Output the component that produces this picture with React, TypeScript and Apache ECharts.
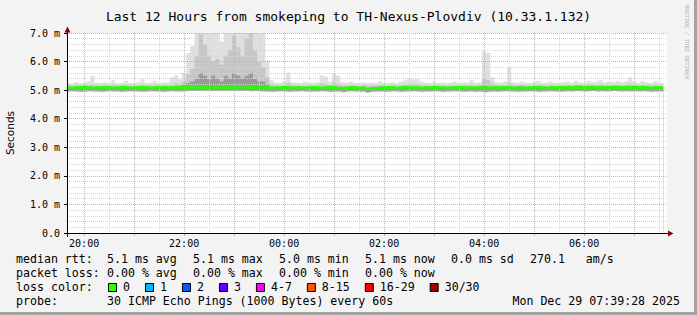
import React, { useEffect, useRef } from "react";
import * as echarts from "echarts";

// ---------- texts ----------
const TITLE = "Last 12 Hours from smokeping to TH-Nexus-Plovdiv (10.33.1.132)";
const Y_NAME = "Seconds";
const WATERMARK = "RRDTOOL / TOBI OETIKER";
const rowLabels = ["median rtt:", "packet loss:", "loss color:", "probe:"];
const rttStats = ["5.1 ms avg", "5.1 ms max", "5.0 ms min", "5.1 ms now", "0.0 ms sd", "270.1   am/s"];
const lossStats = ["0.00 % avg", "0.00 % max", "0.00 % min", "0.00 % now"];
const lossLabels = ["0", "1", "2", "3", "4-7", "8-15", "16-29", "30/30"];
const lossColors = ["#26ff00", "#00b8ff", "#0059ff", "#5e00ff", "#ff00ff", "#ff5500", "#ff0000", "#a10000"];
const probeText = "30 ICMP Echo Pings (1000 Bytes) every 60s";
const dateText = "Mon Dec 29 07:39:28 2025";

// ---------- time frame (hours after 19:00, Dec 28) ----------
const RANGE_START = 39 / 60 + 28 / 3600; // 19:39:28
const RANGE_HOURS = 12;
const FIRST_SAMPLE_MIN = 40; // 19:40
const SAMPLE_STEP_MIN = 5;

// ---------- data (ms), one value per 5 minutes, 12 per hour row ----------
const medianRtt = [
  5.08, 5.07, 5.08, 5.09, 5.10, 5.08, 5.07, 5.08, 5.08, 5.09, 5.08, 5.07,
  5.08, 5.09, 5.08, 5.07, 5.08, 5.08, 5.09, 5.08, 5.07, 5.08, 5.08, 5.09,
  5.08, 5.08, 5.09, 5.10, 5.09, 5.10, 5.11, 5.10, 5.09, 5.10, 5.11, 5.10,
  5.10, 5.11, 5.09, 5.10, 5.11, 5.10, 5.12, 5.10, 5.09, 5.11, 5.10, 5.09,
  5.08, 5.07, 5.08, 5.08, 5.09, 5.08, 5.07, 5.08, 5.08, 5.07, 5.08, 5.09,
  5.08, 5.07, 5.08, 5.09, 5.08, 5.07, 5.06, 5.08, 5.09, 5.08, 5.07, 5.08,
  5.04, 5.06, 5.07, 5.08, 5.08, 5.09, 5.08, 5.07, 5.08, 5.09, 5.08, 5.08,
  5.08, 5.07, 5.08, 5.08, 5.09, 5.08, 5.08, 5.07, 5.08, 5.08, 5.09, 5.08,
  5.08, 5.07, 5.08, 5.08, 5.08, 5.07, 5.08, 5.08, 5.09, 5.08, 5.08, 5.07,
  5.08, 5.08, 5.07, 5.08, 5.09, 5.08, 5.08, 5.07, 5.08, 5.08, 5.09, 5.08,
  5.09, 5.08, 5.10, 5.09, 5.08, 5.09, 5.10, 5.08, 5.09, 5.08, 5.09, 5.10,
  5.09, 5.08, 5.09, 5.08, 5.09, 5.08, 5.09, 5.08, 5.07, 5.08, 5.08, 5.08,
];

// smoke: lower edge, top of dark band, top of mid band, top of light band
const smokeLow = [
  4.95, 4.96, 4.95, 4.94, 4.95, 4.96, 4.95, 4.95, 4.94, 4.95, 4.96, 4.95,
  4.95, 4.94, 4.95, 4.96, 4.95, 4.95, 4.94, 4.95, 4.96, 4.95, 4.95, 4.94,
  4.95, 4.96, 4.95, 4.95, 4.96, 4.97, 4.98, 4.97, 4.98, 4.97, 4.98, 4.97,
  4.98, 4.97, 4.98, 4.97, 4.98, 4.97, 4.98, 4.97, 4.96, 4.97, 4.96, 4.95,
  4.95, 4.94, 4.95, 4.96, 4.95, 4.94, 4.95, 4.95, 4.96, 4.95, 4.94, 4.95,
  4.95, 4.96, 4.95, 4.94, 4.95, 4.95, 4.93, 4.95, 4.96, 4.95, 4.94, 4.95,
  4.92, 4.94, 4.95, 4.95, 4.94, 4.95, 4.96, 4.95, 4.94, 4.95, 4.95, 4.96,
  4.95, 4.94, 4.95, 4.95, 4.96, 4.95, 4.94, 4.95, 4.95, 4.96, 4.95, 4.94,
  4.95, 4.95, 4.94, 4.95, 4.93, 4.94, 4.95, 4.94, 4.95, 4.96, 4.95, 4.95,
  4.94, 4.95, 4.95, 4.96, 4.95, 4.94, 4.95, 4.95, 4.96, 4.95, 4.94, 4.95,
  4.96, 4.95, 4.97, 4.96, 4.95, 4.96, 4.97, 4.95, 4.96, 4.95, 4.96, 4.97,
  4.96, 4.95, 4.96, 4.95, 4.96, 4.95, 4.96, 4.95, 4.94, 4.95, 4.95, 4.96,
];
const smokeDark = [
  5.07, 5.06, 5.07, 5.08, 5.08, 5.07, 5.06, 5.07, 5.07, 5.08, 5.07, 5.06,
  5.07, 5.08, 5.07, 5.06, 5.07, 5.07, 5.08, 5.07, 5.06, 5.07, 5.07, 5.08,
  5.09, 5.10, 5.12, 5.14, 5.20, 5.25, 5.30, 5.40, 5.60, 5.50, 5.40, 5.50,
  5.40, 5.30, 5.50, 5.40, 5.60, 5.50, 5.40, 5.50, 5.60, 5.40, 5.30, 5.30,
  5.20, 5.10, 5.07, 5.07, 5.08, 5.07, 5.06, 5.07, 5.07, 5.06, 5.07, 5.08,
  5.07, 5.06, 5.07, 5.08, 5.07, 5.06, 5.05, 5.07, 5.08, 5.07, 5.06, 5.07,
  5.03, 5.05, 5.06, 5.07, 5.07, 5.08, 5.07, 5.06, 5.07, 5.08, 5.07, 5.07,
  5.07, 5.06, 5.07, 5.07, 5.08, 5.07, 5.07, 5.06, 5.07, 5.07, 5.08, 5.07,
  5.07, 5.06, 5.07, 5.07, 5.15, 5.12, 5.07, 5.07, 5.08, 5.07, 5.07, 5.06,
  5.07, 5.07, 5.06, 5.07, 5.08, 5.07, 5.07, 5.06, 5.07, 5.07, 5.08, 5.07,
  5.08, 5.07, 5.09, 5.08, 5.07, 5.08, 5.09, 5.07, 5.08, 5.07, 5.08, 5.09,
  5.08, 5.07, 5.08, 5.07, 5.08, 5.07, 5.08, 5.07, 5.06, 5.07, 5.07, 5.07,
];
const smokeMid = [
  5.16, 5.15, 5.17, 5.16, 5.17, 5.16, 5.20, 5.16, 5.15, 5.17, 5.16, 5.18,
  5.16, 5.17, 5.18, 5.16, 5.15, 5.17, 5.19, 5.16, 5.17, 5.18, 5.16, 5.17,
  5.16, 5.20, 5.25, 5.22, 5.30, 5.55, 5.75, 6.20, 6.95, 6.60, 6.20, 6.00,
  6.10, 5.90, 6.20, 6.40, 6.90, 6.50, 6.20, 6.80, 7.00, 6.40, 6.00, 5.80,
  5.45, 5.20, 5.17, 5.16, 5.18, 5.25, 5.17, 5.16, 5.15, 5.17, 5.16, 5.16,
  5.17, 5.25, 5.22, 5.18, 5.25, 5.22, 5.16, 5.15, 5.17, 5.16, 5.15, 5.17,
  5.15, 5.16, 5.15, 5.17, 5.16, 5.16, 5.17, 5.15, 5.17, 5.19, 5.22, 5.20,
  5.20, 5.17, 5.16, 5.15, 5.17, 5.16, 5.16, 5.15, 5.16, 5.17, 5.16, 5.17,
  5.16, 5.19, 5.16, 5.17, 5.40, 5.35, 5.22, 5.17, 5.16, 5.17, 5.25, 5.17,
  5.16, 5.18, 5.16, 5.15, 5.17, 5.18, 5.16, 5.16, 5.18, 5.16, 5.16, 5.17,
  5.18, 5.17, 5.19, 5.18, 5.16, 5.19, 5.17, 5.18, 5.20, 5.17, 5.18, 5.17,
  5.19, 5.17, 5.18, 5.22, 5.18, 5.16, 5.18, 5.17, 5.16, 5.18, 5.16, 5.16,
];
const smokeHigh = [
  5.25, 5.22, 5.28, 5.24, 5.25, 5.30, 5.50, 5.26, 5.24, 5.28, 5.25, 5.35,
  5.24, 5.26, 5.32, 5.25, 5.24, 5.28, 5.38, 5.25, 5.26, 5.32, 5.25, 5.27,
  5.28, 5.45, 5.52, 5.38, 5.62, 6.30, 6.55, 7.00, 7.00, 7.00, 7.00, 7.00,
  7.00, 6.70, 7.00, 7.00, 7.00, 7.00, 7.00, 7.00, 7.00, 7.00, 7.00, 7.00,
  6.05, 5.35, 5.28, 5.25, 5.30, 5.62, 5.28, 5.26, 5.24, 5.30, 5.26, 5.25,
  5.28, 5.52, 5.48, 5.30, 5.58, 5.50, 5.28, 5.25, 5.30, 5.26, 5.24, 5.28,
  5.25, 5.27, 5.24, 5.30, 5.26, 5.25, 5.28, 5.24, 5.30, 5.35, 5.42, 5.38,
  5.40, 5.30, 5.26, 5.24, 5.28, 5.25, 5.27, 5.24, 5.26, 5.30, 5.25, 5.28,
  5.26, 5.35, 5.25, 5.28, 6.35, 6.30, 5.45, 5.28, 5.26, 5.30, 5.80, 5.28,
  5.25, 5.30, 5.26, 5.24, 5.28, 5.32, 5.25, 5.27, 5.30, 5.26, 5.25, 5.28,
  5.30, 5.26, 5.34, 5.28, 5.25, 5.32, 5.28, 5.30, 5.35, 5.27, 5.30, 5.28,
  5.32, 5.28, 5.30, 5.45, 5.30, 5.26, 5.32, 5.28, 5.25, 5.30, 5.26, 5.24,
];

// ---------- layout ----------
const W = 697;
const H = 315;
const GL = 67;
const GT = 33;
const GW = 600;
const GH = 200;
const MONO = "'DejaVu Sans Mono', monospace";
const LEG_FS = 11.6;
const CHAR_W = 6.98;
const ROW_Y = [259, 273, 287, 301];
const TEXT_X = 16;
const STAT_X = [107, 193, 279, 365, 451, 530];
const BOX_X0 = 108;
const MAJOR_GRID = "#e3a3a3";
const MINOR_GRID = "#d6d6d6";
const ARROW = "#8e0000";
const SMOKE_LIGHT = "#e0e0e0";
const SMOKE_MID = "#c6c6c6";
const SMOKE_DARK = "#9a9a9a";

function buildOption() {
  const xs = medianRtt.map((_, i) => (FIRST_SAMPLE_MIN + i * SAMPLE_STEP_MIN) / 60);
  const pair = (arr: number[]) => arr.map((v, i) => [xs[i], v]);
  const xMin = RANGE_START;
  const xMax = RANGE_START + RANGE_HOURS;

  // each band is an area filled from the axis floor; later ones cover earlier ones
  const areaSeries = (name: string, data: number[], color: string) => ({
    type: "line",
    name,
    xAxisIndex: 1,
    step: "middle",
    symbol: "none",
    silent: true,
    data: pair(data),
    lineStyle: { width: 0, opacity: 0 },
    areaStyle: { color, opacity: 1, origin: "start" },
    z: 1,
  });

  const graphics: any[] = [];
  const bottom = GT + GH;
  // frame
  graphics.push({ type: "rect", shape: { x: 0, y: H - 3, width: W, height: 3 }, style: { fill: "#a3a3a3" }, silent: true });
  graphics.push({ type: "rect", shape: { x: W - 3, y: 0, width: 3, height: H }, style: { fill: "#a3a3a3" }, silent: true });
  // axis extensions and arrows
  graphics.push({ type: "line", shape: { x1: GL - 3, y1: bottom + 0.5, x2: GL + GW + 2, y2: bottom + 0.5 }, style: { stroke: "#000", lineWidth: 1 }, silent: true, z: 10 });
  graphics.push({ type: "line", shape: { x1: GL + 0.5, y1: bottom + 4, x2: GL + 0.5, y2: GT - 1 }, style: { stroke: "#000", lineWidth: 1 }, silent: true, z: 10 });
  graphics.push({ type: "polygon", shape: { points: [[GL + GW + 1, bottom - 2.5], [GL + GW + 6.5, bottom + 0.5], [GL + GW + 1, bottom + 3.5]] }, style: { fill: ARROW }, silent: true, z: 10 });
  graphics.push({ type: "polygon", shape: { points: [[GL - 2.5, GT - 0.5], [GL + 0.5, GT - 6.5], [GL + 3.5, GT - 0.5]] }, style: { fill: ARROW }, silent: true, z: 10 });
  // y name
  graphics.push({ type: "text", x: 10, y: GT + GH / 2, rotation: Math.PI / 2, style: { text: Y_NAME, fontFamily: "'DejaVu Sans', sans-serif", fontSize: 10.5, fill: "#000", align: "center", verticalAlign: "middle" }, silent: true });
  // watermark
  graphics.push({ type: "text", x: 686.5, y: 5, rotation: -Math.PI / 2, style: { text: WATERMARK, fontFamily: MONO, fontSize: 5.6, fill: "#b0b0b0", align: "left", verticalAlign: "middle" }, silent: true });

  const txt = (text: string, x: number, y: number, align = "left") => ({
    type: "text",
    x,
    y,
    style: { text, fontFamily: MONO, fontSize: LEG_FS, fill: "#000", align, verticalAlign: "middle" },
    silent: true,
  });
  rowLabels.forEach((l, r) => graphics.push(txt(l, TEXT_X, ROW_Y[r])));
  rttStats.forEach((s, k) => graphics.push(txt(s, STAT_X[k], ROW_Y[0])));
  lossStats.forEach((s, k) => graphics.push(txt(s, STAT_X[k], ROW_Y[1])));
  let bx = BOX_X0;
  lossLabels.forEach((l, k) => {
    graphics.push({
      type: "rect",
      shape: { x: bx + 0.5, y: ROW_Y[2] - 3.5, width: 8, height: 8 },
      style: { fill: lossColors[k], stroke: "#000", lineWidth: 1 },
      silent: true,
    });
    graphics.push(txt(l, bx + 15, ROW_Y[2]));
    bx += 30 + CHAR_W * l.length;
  });
  graphics.push(txt(probeText, STAT_X[0], ROW_Y[3]));
  graphics.push(txt(dateText, 680, ROW_Y[3], "right"));

  const pad = (n: number) => (n < 10 ? "0" + n : "" + n);

  return {
    animation: false,
    backgroundColor: "#f3f3f3",
    title: {
      text: TITLE,
      left: "center",
      top: 5,
      textStyle: { fontFamily: MONO, fontSize: 13, fontWeight: "normal", color: "#000" },
    },
    grid: {
      left: GL,
      top: GT,
      width: GW,
      height: GH,
      show: true,
      backgroundColor: "#ffffff",
      borderWidth: 0,
      containLabel: false,
      outerBoundsMode: "none",
    },
    xAxis: [
      {
        type: "value",
        min: xMin,
        max: xMax,
        splitNumber: 24,
        minInterval: 0.5,
        maxInterval: 0.5,
        position: "bottom",
        z: 3,
        axisLine: { show: false },
        axisTick: { show: false },
        axisLabel: { show: false },
        splitLine: { show: true, showMinLine: false, showMaxLine: false, lineStyle: { color: MINOR_GRID, type: [1, 1], width: 1 } },
      },
      {
        type: "value",
        min: xMin,
        max: xMax,
        splitNumber: 12,
        minInterval: 1,
        maxInterval: 1,
        position: "bottom",
        z: 3,
        axisLine: { show: true, onZero: false, lineStyle: { color: "#000", width: 1 } },
        axisTick: { show: true, length: 3, lineStyle: { color: MAJOR_GRID } },
        axisLabel: {
          margin: 5,
          fontFamily: MONO,
          fontSize: 10,
          color: "#000",
          showMinLabel: false,
          showMaxLabel: false,
          formatter: (v: number) => {
            if (Math.abs(v - Math.round(v)) > 1e-6) return "";
            const h = (19 + Math.round(v)) % 24;
            if (h % 2 !== 0) return "";
            return pad(h) + ":00";
          },
        },
        splitLine: { show: true, showMinLine: false, showMaxLine: false, lineStyle: { color: MAJOR_GRID, type: [1, 1], width: 1 } },
      },
    ],
    yAxis: {
      type: "value",
      min: 0,
      max: 7,
      interval: 1,
      z: 3,
      axisLine: { show: true, lineStyle: { color: "#000", width: 1 } },
      axisTick: { show: true, length: 3, lineStyle: { color: "#000" } },
      axisLabel: {
        margin: 7,
        fontFamily: MONO,
        fontSize: 10,
        color: "#000",
        formatter: (v: number) => (v === 0 ? "0.0" : v.toFixed(1) + " m"),
      },
      splitLine: { show: true, lineStyle: { color: MAJOR_GRID, type: [1, 1], width: 1 } },
      minorTick: { show: false, splitNumber: 5 },
      minorSplitLine: { show: true, lineStyle: { color: MINOR_GRID, type: [1, 1], width: 1 } },
    },
    series: [
      areaSeries("light", smokeHigh, SMOKE_LIGHT),
      areaSeries("mid", smokeMid, SMOKE_MID),
      areaSeries("dark", smokeDark, SMOKE_DARK),
      areaSeries("low", smokeLow, "#ffffff"),
      {
        type: "line",
        name: "median",
        xAxisIndex: 1,
        step: "middle",
        symbol: "none",
        silent: true,
        data: pair(medianRtt),
        lineStyle: { color: "#26ff00", width: 3 },
        z: 5,
      },
    ],
    graphic: graphics,
  };
}

export default function App() {
  const ref = useRef<HTMLDivElement>(null);
  useEffect(() => {
    if (!ref.current) return;
    const chart = echarts.init(ref.current, null, { renderer: "svg" });
    chart.setOption(buildOption() as any);
    return () => chart.dispose();
  }, []);
  return (
    <div
      ref={ref}
      style={{ position: "absolute", left: 0, top: 0, width: W, height: H }}
    />
  );
}
